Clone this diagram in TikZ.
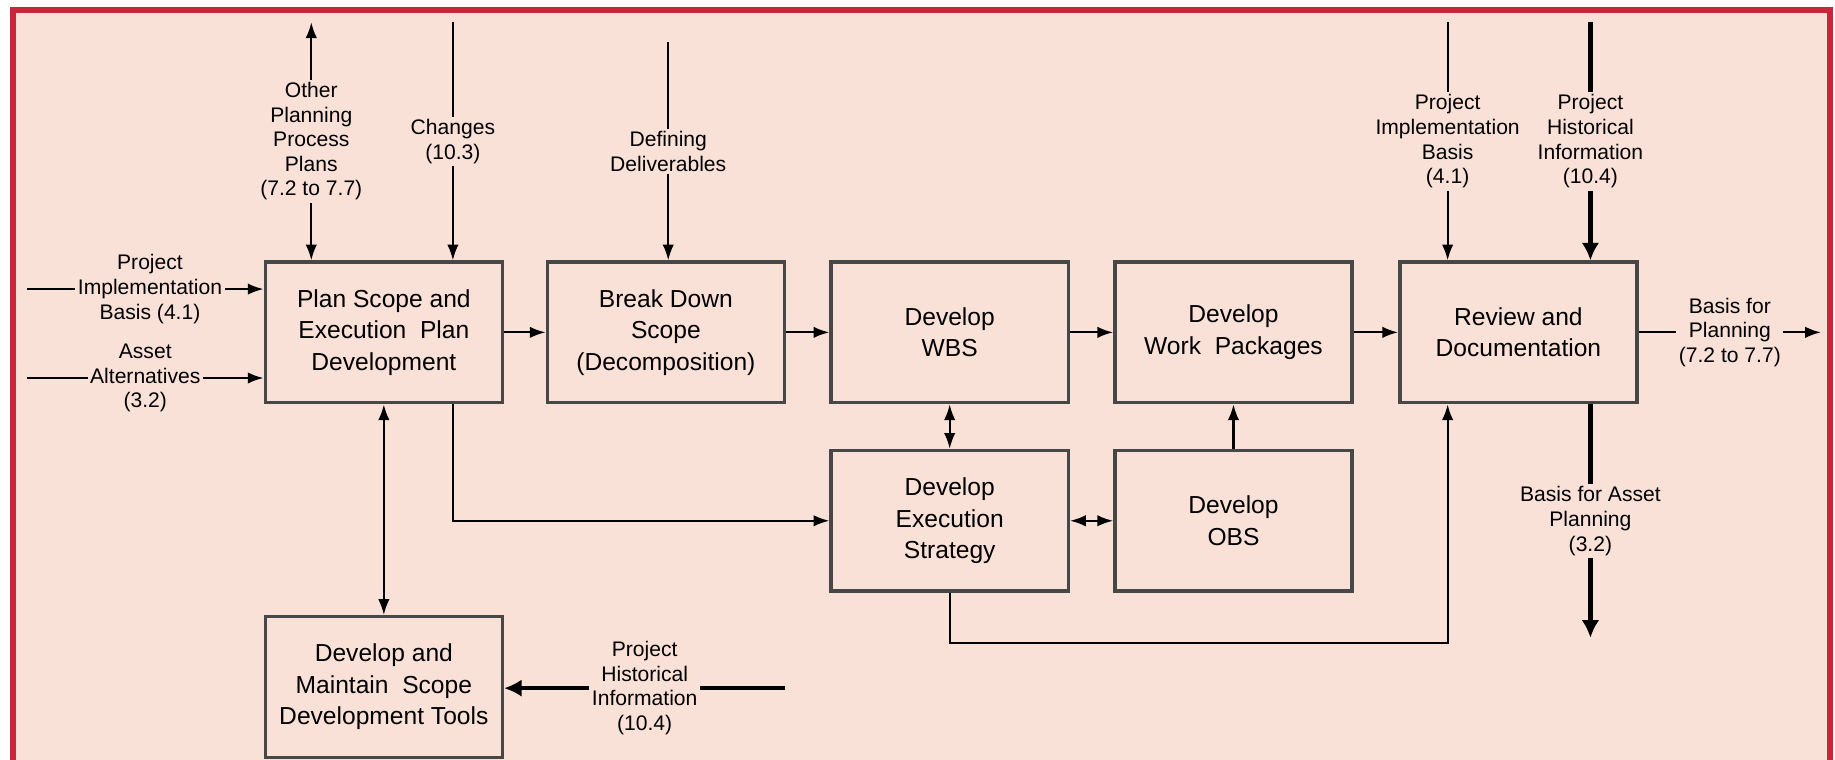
\documentclass[tikz,border=0pt]{standalone}
\usepackage{fontspec}
\setmainfont{Liberation Sans}
\usetikzlibrary{arrows.meta}
\definecolor{sfondo}{RGB}{250,225,216}
\definecolor{cornice}{RGB}{198,40,58}

\begin{document}
\begin{tikzpicture}[x=0.666pt, y=-0.666pt,
    blocco/.style={draw=black!72, line width=1.9pt, minimum width=135pt, minimum height=80pt,
        align=center, inner sep=2pt, font=\fontsize{14}{18}\selectfont},
    etichetta/.style={fill=sfondo, align=center, inner sep=1.5pt, font=\fontsize{12}{14}\selectfont},
    freccia/.style={line width=1.2pt, -{Latex[length=9pt,width=6.5pt]}},
    doppia/.style={line width=1.2pt, {Latex[length=9pt,width=6.5pt]}-{Latex[length=9pt,width=6.5pt]}},
    grossa/.style={line width=2.6pt, -{Latex[length=10pt,width=10pt]}}]
    \useasboundingbox (0,0) rectangle (1568,649);
    \clip (0,0) rectangle (1568,649);

    % Cornice
    \fill[white] (0,0) rectangle (1568,649);
    \fill[sfondo] (11,8.5) rectangle (1563.5,670);
    \draw[cornice, line width=3.3pt] (11,670) -- (11,8.5) -- (1563.5,8.5) -- (1563.5,670);

    % Riquadri
    \node[blocco] (pianifica) at (328,284) {Plan Scope and\\Execution\ \ Plan\\Development};
    \node[blocco] (scomponi) at (569,284) {Break Down\\Scope\\(Decomposition)};
    \node[blocco] (wbs) at (811.5,284) {Develop\\WBS};
    \node[blocco] (pacchetti) at (1054,284) {Develop\\Work\ \ Packages};
    \node[blocco] (revisione) at (1297.5,284) {Review and\\Documentation};
    \node[blocco] (strategia) at (811.5,445) {Develop\\Execution\\Strategy};
    \node[blocco] (obs) at (1054,445) {Develop\\OBS};
    \node[blocco] (strumenti) at (328,587) {Develop and\\Maintain\ \ Scope\\Development Tools};

    % Estremi liberi
    \coordinate (inPIB) at (23,247);
    \coordinate (inAlt) at (23,323);
    \coordinate (suAltri) at (266,19);
    \coordinate (suModifiche) at (387,19);
    \coordinate (suDefinire) at (571,36);
    \coordinate (suPIB) at (1237,19);
    \coordinate (suStorico) at (1359,19);
    \coordinate (outPianif) at (1556,284);
    \coordinate (outAsset) at (1359,545);
    \coordinate (inStorico) at (671,588);

    % Ingressi e uscite
    \draw[freccia] (inPIB) -- node[etichetta, pos=0.52] {Project\\Implementation\\Basis (4.1)} (inPIB -| pianifica.west);
    \draw[freccia] (inAlt) -- node[etichetta] {Asset\\Alternatives\\(3.2)} (inAlt -| pianifica.west);
    \draw[doppia] (pianifica.north -| suAltri) -- node[etichetta] {Other\\Planning\\Process\\Plans\\(7.2 to 7.7)} (suAltri);
    \draw[freccia] (suModifiche) -- node[etichetta] {Changes\\(10.3)} (suModifiche |- pianifica.north);
    \draw[freccia] (suDefinire) -- node[etichetta] {Defining\\Deliverables} (suDefinire |- scomponi.north);
    \draw[freccia] (suPIB) -- node[etichetta] {Project\\Implementation\\Basis\\(4.1)} (suPIB |- revisione.north);
    \draw[grossa] (suStorico) -- node[etichetta] {Project\\Historical\\Information\\(10.4)} (suStorico |- revisione.north);
    \draw[freccia] (revisione.east) -- node[etichetta] {Basis for\\Planning\\(7.2 to 7.7)} (outPianif);
    \draw[grossa] (outAsset |- revisione.south) -- node[etichetta] {Basis for Asset\\Planning\\(3.2)} (outAsset);
    \draw[grossa] (inStorico) -- node[etichetta] {Project\\Historical\\Information\\(10.4)} (inStorico -| strumenti.east);

    % Collegamenti interni
    \draw[freccia] (pianifica) -- (scomponi);
    \draw[freccia] (scomponi) -- (wbs);
    \draw[freccia] (wbs) -- (pacchetti);
    \draw[freccia] (pacchetti) -- (revisione);
    \draw[doppia] (pianifica) -- (strumenti);
    \draw[freccia] (pianifica.south -| suModifiche) |- (strategia.west);
    \draw[doppia] (wbs) -- (strategia);
    \draw[doppia] (strategia) -- (obs);
    \draw[freccia] (obs) -- (pacchetti);
    \draw[freccia] (strategia.south) -- ++(0,43) -| (revisione.south -| suPIB);

\end{tikzpicture}
\end{document}
